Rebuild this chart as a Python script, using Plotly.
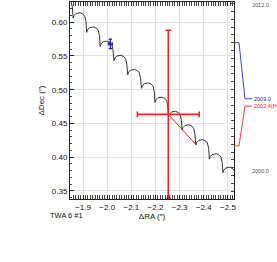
import plotly.graph_objects as go

# Parallax + proper-motion track
curve_ra = [
    -1.832, -1.844, -1.851, -1.856,
    -1.859, -1.863, -1.871, -1.888, -1.900, -1.907, -1.912,
    -1.915, -1.919, -1.927, -1.944, -1.956, -1.963, -1.968,
    -1.971, -1.975, -1.983, -2.000, -2.012, -2.019, -2.024,
    -2.028, -2.032, -2.040, -2.057, -2.069, -2.076, -2.081,
    -2.085, -2.089, -2.097, -2.114, -2.126, -2.133, -2.138,
    -2.142, -2.146, -2.154, -2.171, -2.183, -2.190, -2.195,
    -2.198, -2.202, -2.210, -2.227, -2.239, -2.246, -2.251,
    -2.254, -2.258, -2.266, -2.283, -2.295, -2.302, -2.307,
    -2.310, -2.314, -2.322, -2.339, -2.351, -2.358, -2.363,
    -2.367, -2.371, -2.379, -2.396, -2.408, -2.415, -2.420,
    -2.423, -2.427, -2.435, -2.452, -2.464, -2.471, -2.476,
    -2.479, -2.483, -2.491, -2.508, -2.520, -2.527, -2.532,
]
curve_dec = [
    0.635, 0.633, 0.630, 0.622,
    0.606, 0.610, 0.613, 0.614, 0.612, 0.609, 0.601,
    0.585, 0.589, 0.592, 0.593, 0.591, 0.588, 0.580,
    0.564, 0.568, 0.571, 0.572, 0.570, 0.567, 0.559,
    0.543, 0.547, 0.550, 0.551, 0.549, 0.546, 0.538,
    0.522, 0.526, 0.529, 0.530, 0.528, 0.525, 0.517,
    0.502, 0.506, 0.509, 0.510, 0.508, 0.505, 0.497,
    0.481, 0.485, 0.488, 0.489, 0.487, 0.484, 0.476,
    0.460, 0.464, 0.467, 0.468, 0.466, 0.463, 0.455,
    0.440, 0.444, 0.447, 0.448, 0.446, 0.443, 0.435,
    0.418, 0.422, 0.425, 0.426, 0.424, 0.421, 0.413,
    0.397, 0.401, 0.404, 0.405, 0.403, 0.400, 0.392,
    0.377, 0.381, 0.384, 0.385, 0.383, 0.380, 0.372,
]

# Measurements
epochs = ["2009.0", "2002.4(H)"]
epoch_years = [2009.0, 2002.4]
meas_ra = [-2.013, -2.253]
meas_dec = [0.568, 0.4635]
meas_ra_err = [0.008, 0.128]
meas_dec_err = [0.007, 0.1247]
meas_colors = ["#1a1aa8", "#ff2020"]
line_colors = ["#4040c0", "#ff4040"]

# predicted position at the 2002.4 epoch (end of the red connector)
model_ra_2002 = [-2.253, -2.369]
model_dec_2002 = [0.4635, 0.418]

year_labels = ["2012.0", "2000.0"]

fig = go.Figure()

fig.add_trace(go.Scatter(x=curve_ra, y=curve_dec, mode="lines",
                         line=dict(color="#333333", width=1),
                         hoverinfo="skip", showlegend=False))

fig.add_trace(go.Scatter(x=model_ra_2002, y=model_dec_2002, mode="lines",
                         line=dict(color="#ff2020", width=1),
                         showlegend=False))

caps = [1.7, 2.8]
widths = [1.3, 1.6]
for i in range(len(epochs)):
    fig.add_trace(go.Scatter(
        x=[meas_ra[i]], y=[meas_dec[i]], mode="markers",
        marker=dict(color=meas_colors[i], size=2),
        error_x=dict(type="data", array=[meas_ra_err[i]], color=meas_colors[i],
                     thickness=widths[i], width=caps[i]),
        error_y=dict(type="data", array=[meas_dec_err[i]], color=meas_colors[i],
                     thickness=widths[i], width=caps[i]),
        showlegend=False, cliponaxis=False))

# invisible trace to activate the time axis on the right
fig.add_trace(go.Scatter(x=[None], y=[None], yaxis="y2", showlegend=False))

# connector lines from the time axis to epoch labels
label_years = [2005.41, 2004.94]
for i in range(len(epochs)):
    fig.add_shape(type="path", xref="paper", yref="y2",
                  path=f"M 1,{epoch_years[i]} L 1.0305,{epoch_years[i]} "
                       f"L 1.0671,{label_years[i]} L 1.1098,{label_years[i]}",
                  line=dict(color=line_colors[i], width=1))
    fig.add_annotation(xref="paper", yref="y2", x=1.108, y=label_years[i],
                       text=epochs[i], showarrow=False, xanchor="left",
                       yanchor="middle",
                       font=dict(size=5.5, color=meas_colors[i], family="Liberation Sans"))

fig.add_annotation(xref="paper", yref="paper", x=1.095, y=1.012, text=year_labels[0],
                   showarrow=False, xanchor="left", yanchor="top",
                   font=dict(size=5.5, color="#555555", family="Liberation Sans"))
fig.add_annotation(xref="paper", yref="paper", x=1.095, y=0.142, text=year_labels[1],
                   showarrow=False, xanchor="left", yanchor="middle",
                   font=dict(size=5.5, color="#555555", family="Liberation Sans"))

fig.add_annotation(xref="paper", yref="paper", x=-0.134, y=-0.086, text="TWA 6 #1",
                   showarrow=False, xanchor="left", yanchor="middle",
                   font=dict(size=7.5, color="#111111", family="Liberation Sans"))

axis_font = dict(size=8, color="#111111", family="Liberation Sans")

fig.update_layout(
    width=277, height=262,
    margin=dict(l=70, r=43, t=2, b=63),
    paper_bgcolor="white", plot_bgcolor="white",
    font=axis_font,
    xaxis=dict(range=[-1.846, -2.525], dtick=0.1, tick0=-2.0, tickformat=".1f",
               showgrid=True, gridcolor="#e2e2e2", gridwidth=1,
               zeroline=False, showline=True, linecolor="#222222", linewidth=1,
               mirror="allticks", ticks="inside", ticklen=4, tickcolor="#222222",
               minor=dict(dtick=0.01, ticks="inside", ticklen=2, tickcolor="#444444"),
               title=dict(text="ΔRA (″)", font=axis_font, standoff=2),
               tickfont=axis_font),
    yaxis=dict(range=[0.338, 0.630], dtick=0.05, tick0=0.35, tickformat=".2f",
               showgrid=True, gridcolor="#e2e2e2", gridwidth=1,
               zeroline=False, showline=True, linecolor="#222222", linewidth=1,
               mirror=True, ticks="inside", ticklen=4, tickcolor="#222222",
               minor=dict(dtick=0.01, ticks="inside", ticklen=2, tickcolor="#444444"),
               title=dict(text="ΔDec (″)", font=axis_font, standoff=6),
               tickfont=axis_font),
    yaxis2=dict(overlaying="y", side="right", range=[1999.0, 2011.6],
                dtick=0.5, ticks="inside", ticklen=3, tickcolor="#444444",
                showticklabels=False, showgrid=False, zeroline=False,
                showline=False),
)

fig.write_html("out.html", config={"displayModeBar": False},
               post_script="document.body.style.margin='0';")
